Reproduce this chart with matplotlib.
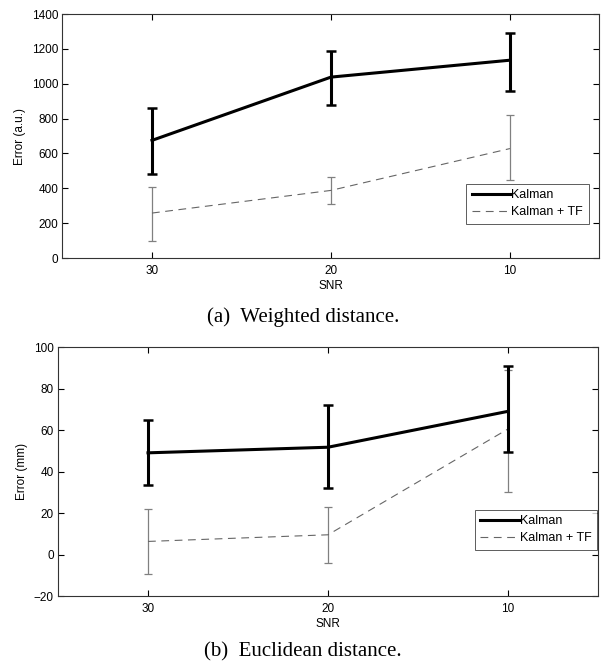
import matplotlib as mpl
mpl.use('Agg')
import matplotlib.pyplot as plt

plt.rcParams['font.family'] = ['Liberation Sans', 'DejaVu Sans']

snr_labels = ['30', '20', '10']

# weighted distance (a.u.)
kal_w = [675, 1038, 1135]
kal_w_lo = [480, 880, 960]
kal_w_hi = [862, 1190, 1290]
tf_w = [258, 388, 628]
tf_w_lo = [100, 308, 445]
tf_w_hi = [410, 465, 820]

# euclidean distance (mm)
kal_e = [49, 51.7, 69]
kal_e_lo = [33.5, 32, 49.5]
kal_e_hi = [65, 72, 91]
tf_e = [6.3, 9.5, 60.5]
tf_e_lo = [-9.5, -4, 30]
tf_e_hi = [22, 23, 88.8]


def draw(ax, kal, klo, khi, tf, tlo, thi, ylabel, ylim, yticks, leg_box, spacing):
	x = [1, 2, 3]
	c_tf = ax.errorbar(x, tf, yerr=[[m - l for m, l in zip(tf, tlo)], [h - m for m, h in zip(tf, thi)]],
		color='0.4', ls=(0, (7, 5)), lw=0.8, ecolor='0.5', elinewidth=0.9,
		capsize=3, capthick=0.9, zorder=2)
	c_k = ax.errorbar(x, kal, yerr=[[m - l for m, l in zip(kal, klo)], [h - m for m, h in zip(kal, khi)]],
		color='black', lw=2.2, elinewidth=2.2, capsize=3.5, capthick=1.8, zorder=3)
	ax.set_xlim(0.5, 3.5)
	ax.set_xticks(x)
	ax.set_xticklabels(snr_labels)
	ax.set_ylim(*ylim)
	ax.set_yticks(yticks)
	ax.tick_params(direction='in', top=True, right=True, labelsize=8.5, length=4, pad=3)
	ax.tick_params(axis='x', pad=5)
	ax.set_xlabel('SNR', fontsize=8.5, labelpad=2)
	ax.set_ylabel(ylabel, fontsize=8.5, labelpad=4)
	for s in ax.spines.values():
		s.set_linewidth(0.8)
		s.set_color('0.2')
	leg = ax.legend([c_k.lines[0], c_tf.lines[0]], ['Kalman', 'Kalman + TF'],
		loc='lower right', bbox_to_anchor=leg_box,
		fontsize=9, frameon=True, fancybox=False, edgecolor='0.2',
		handlelength=3.1, handletextpad=0.05, borderpad=0.45, labelspacing=spacing,
		borderaxespad=0)
	leg.get_frame().set_linewidth(0.7)


fig = plt.figure()
fig.set_size_inches(6.03, 6.64)

ax1 = fig.add_axes([0.1036, 0.6114, 0.8905, 0.3675])
draw(ax1, kal_w, kal_w_lo, kal_w_hi, tf_w, tf_w_lo, tf_w_hi,
	'Error (a.u.)', (0, 1400), range(0, 1401, 200), (0.980, 0.14), 0.4)

ax2 = fig.add_axes([0.0962, 0.1024, 0.8955, 0.375])
draw(ax2, kal_e, kal_e_lo, kal_e_hi, tf_e, tf_e_lo, tf_e_hi,
	'Error (mm)', (-20, 100), range(-20, 101, 20), (0.998, 0.185), 0.4)

fig.text(0.503, 1 - 317 / 664, '(a)  Weighted distance.', ha='center', va='center',
	fontsize=15, family='Liberation Serif')
fig.text(0.503, 1 - 652 / 664, '(b)  Euclidean distance.', ha='center', va='center',
	fontsize=15, family='Liberation Serif')

plt.savefig('out.png', dpi=100)
